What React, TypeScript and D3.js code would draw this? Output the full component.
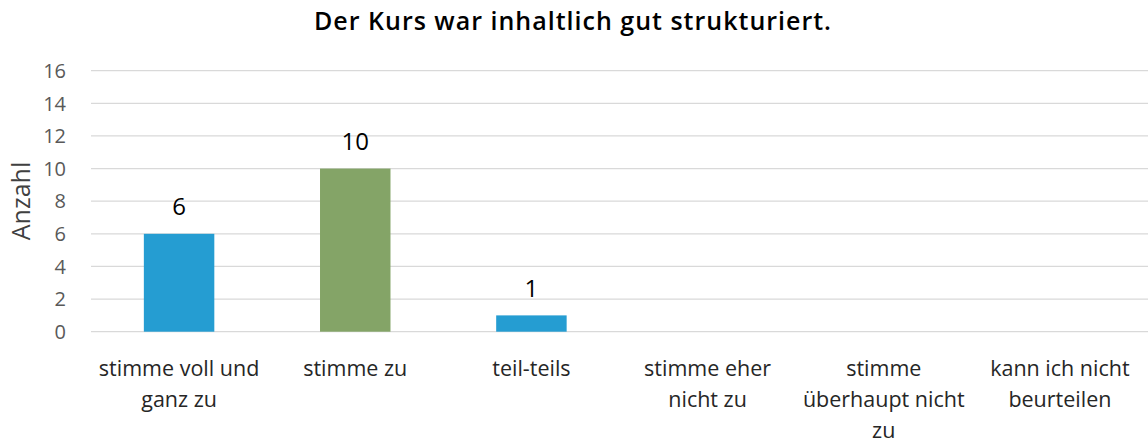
import React from "react";
import * as d3 from "d3";

const title = "Der Kurs war inhaltlich gut strukturiert.";
const yAxisLabel = "Anzahl";
const categories = [
  "stimme voll und\nganz zu",
  "stimme zu",
  "teil-teils",
  "stimme eher\nnicht zu",
  "stimme\nüberhaupt nicht\nzu",
  "kann ich nicht\nbeurteilen",
];
const values = [6, 10, 1, 0, 0, 0];
const barColors = ["#259dd2", "#84a467", "#259dd2", "#259dd2", "#259dd2", "#259dd2"];
const yTicks = [0, 2, 4, 6, 8, 10, 12, 14, 16];

const W = 1148;
const H = 443;
const FONT = "'Open Sans', 'Noto Sans', sans-serif";

export default function App() {
  const x = d3
    .scaleBand<string>()
    .domain(categories)
    .range([91, 1148])
    .paddingInner(0.6)
    .paddingOuter(0.3);
  const y = d3.scaleLinear().domain([0, 16]).range([331.7, 70.7]);

  return (
    <svg
      width={W}
      height={H}
      style={{ position: "absolute", left: 0, top: 0, background: "#fff" }}
      fontFamily={FONT}
    >
      <text
        x={573}
        y={30}
        textAnchor="middle"
        fontSize={25}
        fontWeight={600}
        letterSpacing={1}
        fill="#000"
      >
        {title}
      </text>
      {yTicks.map((t) => (
        <g key={t}>
          <line x1={91} x2={1148} y1={y(t)} y2={y(t)} stroke="#d9d9d9" strokeWidth={1.3} />
          <text x={66} y={y(t)} dy="0.36em" textAnchor="end" fontSize={20} fill="#595959">
            {t}
          </text>
        </g>
      ))}
      <text
        transform={`translate(30,201) rotate(-90)`}
        textAnchor="middle"
        fontSize={25}
        fill="#404040"
      >
        {yAxisLabel}
      </text>
      {categories.map((c, i) => {
        const v = values[i];
        const bx = x(c)!;
        const bw = x.bandwidth();
        const cx = bx + bw / 2;
        return (
          <g key={c}>
            {v > 0 && (
              <rect
                x={bx}
                y={y(v)}
                width={bw}
                height={y(0) - y(v)}
                fill={barColors[i]}
              />
            )}
            {v > 0 && (
              <text x={cx} y={y(v) - 18.5} textAnchor="middle" fontSize={24} fill="#000">
                {v}
              </text>
            )}
            {c.split("\n").map((line, j) => (
              <text
                key={j}
                x={cx}
                y={376 + j * 31}
                textAnchor="middle"
                fontSize={21.5}
                fill="#262626"
              >
                {line}
              </text>
            ))}
          </g>
        );
      })}
    </svg>
  );
}
